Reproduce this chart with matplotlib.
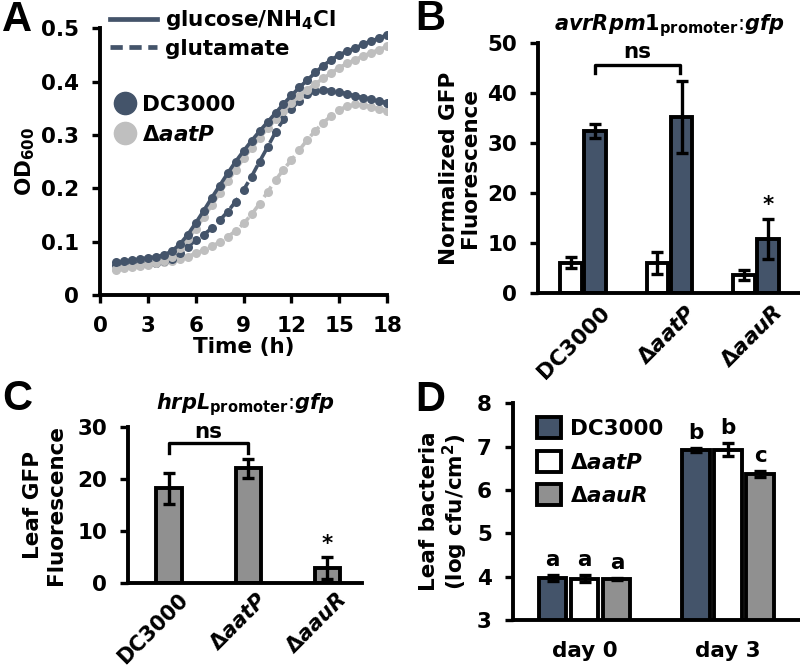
import numpy as np
import matplotlib
matplotlib.use('Agg')
import matplotlib.pyplot as plt
import matplotlib.transforms as mtransforms
from matplotlib.lines import Line2D
from matplotlib.patches import Patch

plt.rcParams['font.family'] = ['DejaVu Sans']
plt.rcParams['font.weight'] = 'bold'
plt.rcParams['axes.labelweight'] = 'bold'
plt.rcParams['mathtext.fontset'] = 'custom'
plt.rcParams['mathtext.rm'] = 'DejaVu Sans:bold'
plt.rcParams['mathtext.it'] = 'DejaVu Sans:bold:italic'
plt.rcParams['mathtext.bf'] = 'DejaVu Sans:bold'
plt.rcParams['mathtext.default'] = 'it'

DARK = '#44546a'
LIGHT = '#bfbfbf'
GRAY = '#909090'
FS = 15.5

# ---- panel A: growth curves ----
time_h = [1.0, 1.5, 2.0, 2.5, 3.0, 3.5, 4.0, 4.5, 5.0, 5.5, 6.0, 6.5, 7.0, 7.5, 8.0, 8.5,
          9.0, 9.5, 10.0, 10.5, 11.0, 11.5, 12.0, 12.5, 13.0, 13.5, 14.0, 14.5, 15.0,
          15.5, 16.0, 16.5, 17.0, 17.5, 18.0]
dc_glucose = [0.062, 0.063, 0.066, 0.067, 0.070, 0.071, 0.075, 0.082, 0.095, 0.113, 0.135,
              0.158, 0.182, 0.205, 0.228, 0.250, 0.270, 0.289, 0.307, 0.324, 0.341, 0.358,
              0.374, 0.389, 0.403, 0.417, 0.430, 0.441, 0.450, 0.457, 0.463, 0.470, 0.476,
              0.481, 0.488]
aatp_glucose = [0.048, 0.052, 0.054, 0.056, 0.058, 0.060, 0.064, 0.072, 0.088, 0.105, 0.124,
                0.146, 0.168, 0.191, 0.213, 0.235, 0.256, 0.276, 0.295, 0.312, 0.329, 0.345,
                0.360, 0.373, 0.385, 0.396, 0.406, 0.416, 0.426, 0.434, 0.441, 0.448, 0.454,
                0.460, 0.466]
dc_glutamate = [0.056, 0.057, 0.058, 0.058, 0.059, 0.060, 0.063, 0.068, 0.078, 0.090, 0.103,
                0.113, 0.125, 0.140, 0.156, 0.175, 0.197, 0.222, 0.250, 0.277, 0.305, 0.329,
                0.349, 0.364, 0.376, 0.383, 0.385, 0.383, 0.380, 0.377, 0.373, 0.370, 0.367,
                0.364, 0.360]
aatp_glutamate = [0.046, 0.050, 0.053, 0.055, 0.057, 0.059, 0.061, 0.064, 0.067, 0.072, 0.078,
                  0.084, 0.091, 0.099, 0.109, 0.120, 0.134, 0.151, 0.171, 0.193, 0.215, 0.235,
                  0.253, 0.272, 0.291, 0.308, 0.323, 0.336, 0.347, 0.354, 0.357, 0.356, 0.353,
                  0.349, 0.344]

# ---- panel B: avrRpm1 promoter ----
strains = ['DC3000', 'Δ$aatP$', 'Δ$aauR$']
b_white = [6.1, 6.1, 3.6]
b_white_err = [1.1, 2.2, 1.0]
b_dark = [32.3, 35.2, 10.9]
b_dark_err = [1.4, 7.2, 4.0]

# ---- panel C: hrpL promoter in leaf ----
c_vals = [18.2, 22.1, 2.9]
c_err = [3.0, 1.8, 2.1]

# ---- panel D: leaf bacteria ----
days = ['day 0', 'day 3']
d_strains = ['DC3000', 'Δ$aatP$', 'Δ$aauR$']
d_vals = [[3.96, 6.92], [3.95, 6.93], [3.95, 6.37]]
d_err = [[0.07, 0.05], [0.08, 0.15], [0.02, 0.06]]
d_letters = [['a', 'b'], ['a', 'b'], ['a', 'c']]
d_colors = [DARK, 'white', GRAY]

fig = plt.figure(figsize=(8, 6.71), dpi=100)

EW = 2.8
ek = dict(ecolor='black', elinewidth=2.4, capsize=4.5, capthick=2.4)


def style(ax):
    for s in ['top', 'right']:
        ax.spines[s].set_visible(False)
    for s in ['left', 'bottom']:
        ax.spines[s].set_linewidth(EW)
    ax.tick_params(width=2.4, length=6, labelsize=FS, direction='out', pad=9)


def shift_labels(ax, dx):
    off = mtransforms.ScaledTranslation(dx / 72, 0, fig.dpi_scale_trans)
    for lab in ax.get_xticklabels():
        lab.set_transform(lab.get_transform() + off)


# A
axA = fig.add_axes([0.125, 0.5604, 0.359, 0.3976])
style(axA)
lk = dict(lw=2.6, marker='o', ms=6.5, markeredgewidth=0)
axA.plot(time_h, aatp_glutamate, color=LIGHT, ls=(0, (3.5, 1.8)), **lk)
axA.plot(time_h, dc_glutamate, color=DARK, ls=(0, (3.5, 1.8)), **lk)
axA.plot(time_h, aatp_glucose, color=LIGHT, ls='-', **lk)
axA.plot(time_h, dc_glucose, color=DARK, ls='-', **lk)
axA.set_xlim(0, 18)
axA.set_ylim(0, 0.5)
axA.set_xticks(range(0, 19, 3))
axA.set_yticks([0, 0.1, 0.2, 0.3, 0.4, 0.5])
axA.set_yticklabels(['0', '0.1', '0.2', '0.3', '0.4', '0.5'])
axA.set_xlabel('Time (h)', fontsize=FS, labelpad=1)
axA.set_ylabel('OD$_{600}$', fontsize=FS, labelpad=3)
leg1 = axA.legend(handles=[Line2D([], [], color=DARK, lw=3.4),
                           Line2D([], [], color=DARK, lw=3.4, ls=(0, (2.6, 1.4)))],
                  labels=['glucose/NH$_4$Cl', 'glutamate'],
                  loc='upper left', bbox_to_anchor=(0.035, 1.075), frameon=False,
                  fontsize=FS, handlelength=2.2, handletextpad=0.35, labelspacing=0.3,
                  borderpad=0, borderaxespad=0)
axA.add_artist(leg1)
axA.legend(handles=[Line2D([], [], color=DARK, marker='o', ls='', ms=16),
                    Line2D([], [], color=LIGHT, marker='o', ls='', ms=16)],
           labels=['DC3000', 'Δ$aatP$'], loc='upper left', bbox_to_anchor=(0.05, 0.75),
           frameon=False, fontsize=FS, handlelength=1.0, handletextpad=0.3,
           labelspacing=0.45, borderpad=0, borderaxespad=0)

# B
axB = fig.add_axes([0.6725, 0.5633, 0.3275, 0.3727])
style(axB)
xb = np.arange(len(strains))
axB.bar(xb - 0.14, b_white, 0.25, color='white', edgecolor='black', linewidth=EW,
        yerr=b_white_err, error_kw=ek)
axB.bar(xb + 0.14, b_dark, 0.25, color=DARK, edgecolor='black', linewidth=EW,
        yerr=b_dark_err, error_kw=ek)
axB.set_xlim(-0.52, 2.51)
axB.set_ylim(0, 50)
axB.set_yticks(range(0, 51, 10))
axB.set_xticks(xb)
axB.set_xticklabels(strains, rotation=45, ha='right', va='top', rotation_mode='anchor')
axB.tick_params(axis='x', length=0, pad=7)
shift_labels(axB, 12)
axB.set_ylabel('Normalized GFP\nFluorescence', fontsize=FS, labelpad=5, linespacing=1.1)
axB.set_title('$avrRpm1_{\\mathrm{promoter}}$:$gfp$', fontsize=15, pad=9)
bx0, bx1 = xb[0] + 0.14, xb[1] + 0.12
axB.plot([bx0, bx0, bx1, bx1], [43.9, 45.6, 45.6, 43.9], color='black', lw=2.4)
axB.text((bx0 + bx1) / 2, 46.2, 'ns', ha='center', va='bottom', fontsize=FS)
axB.text(xb[2] + 0.14, b_dark[2] + b_dark_err[2] + 0.8, '*', ha='center', va='bottom',
         fontsize=FS)

# C
axC = fig.add_axes([0.16, 0.1316, 0.2925, 0.2314])
style(axC)
xc = np.arange(len(strains))
axC.bar(xc, c_vals, 0.32, color=GRAY, edgecolor='black', linewidth=EW,
        yerr=c_err, error_kw=ek)
axC.set_xlim(-0.52, 2.44)
axC.set_ylim(0, 30)
axC.set_yticks(range(0, 31, 10))
axC.set_xticks(xc)
axC.set_xticklabels(strains, rotation=45, ha='right', va='top', rotation_mode='anchor',
                    fontsize=15)
axC.tick_params(axis='x', length=0, pad=5)
shift_labels(axC, 6)
axC.set_ylabel('Leaf GFP\nFluorescence', fontsize=FS, labelpad=8, linespacing=1.2)
axC.set_title('$hrpL_{\\mathrm{promoter}}$:$gfp$', fontsize=15, pad=13)
axC.plot([xc[0], xc[0], xc[1], xc[1]], [25.0, 26.9, 26.9, 25.0], color='black', lw=2.4)
axC.text((xc[0] + xc[1]) / 2, 27.2, 'ns', ha='center', va='bottom', fontsize=FS)
axC.text(xc[2], c_vals[2] + c_err[2] + 0.6, '*', ha='center', va='bottom', fontsize=FS)

# D
axD = fig.add_axes([0.641, 0.076, 0.359, 0.323])
style(axD)
xd = np.arange(len(days))
offs = [-0.224, 0.0, 0.224]
for i in range(3):
    axD.bar(xd + offs[i], d_vals[i], 0.19, color=d_colors[i], edgecolor='black',
            linewidth=EW, yerr=d_err[i], error_kw=ek, label=d_strains[i])
    for j in range(2):
        axD.text(xd[j] + offs[i], d_vals[i][j] + d_err[i][j] + 0.12, d_letters[i][j],
                 ha='center', va='bottom', fontsize=FS)
axD.set_xlim(-0.503, 1.503)
axD.set_ylim(3, 8)
axD.set_yticks(range(3, 9))
axD.set_xticks(xd)
axD.set_xticklabels(days)
axD.tick_params(axis='x', length=0, pad=15)
axD.set_ylabel('Leaf bacteria\n(log cfu/cm$^2$)', fontsize=FS, labelpad=5, linespacing=1.1)
axD.legend(handles=[Patch(facecolor=c, edgecolor='black', linewidth=EW) for c in d_colors],
           labels=d_strains, loc='upper left', bbox_to_anchor=(0.085, 0.935), frameon=False,
           fontsize=FS, handlelength=1.1, handleheight=1.1, handletextpad=0.4,
           labelspacing=0.55, borderpad=0, borderaxespad=0)

# panel letters
for lab, (x, y) in zip('ABCD', [(0.003, 0.970), (0.519, 0.972), (0.003, 0.405), (0.519, 0.404)]):
    fig.text(x, y, lab, fontsize=30, fontweight='bold', va='center', ha='left',
             family='Liberation Sans')

fig.savefig('out.png', dpi=100)
